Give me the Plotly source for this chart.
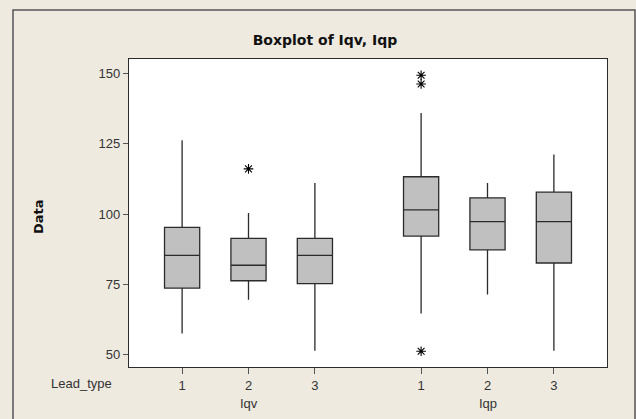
import plotly.graph_objects as go

# ---- data ----
variables = ["Iqv", "Iqv", "Iqv", "Iqp", "Iqp", "Iqp"]
lead_type = ["1", "2", "3", "1", "2", "3"]
q1 = [73.7, 76.3, 75.3, 92.2, 87.3, 82.6]
median = [85.3, 81.8, 85.3, 101.5, 97.3, 97.3]
q3 = [95.3, 91.4, 91.4, 113.3, 105.8, 107.8]
lower_whisker = [57.5, 69.5, 51.4, 64.6, 71.4, 51.4]
upper_whisker = [126.3, 100.4, 111.1, 136.0, 111.1, 121.2]
outlier_box = [1, 3, 3, 3]          # index of box each outlier belongs to
outlier_values = [116.1, 149.4, 146.3, 51.2]
y_ticks = [50, 75, 100, 125, 150]

# box positions: boxes within a variable one unit apart, 1.6 units between variables
group_gap = 1.6
groups = sorted(set(variables), key=variables.index)
positions = []
for i, v in enumerate(variables):
    g = groups.index(v)
    j = i - variables.index(v)
    positions.append(1 + j + g * (2 + group_gap))

BG = "#EEEAE0"
LINE = "#2b2b2b"
FONT = "Liberation Sans, Arial, sans-serif"
BOLD = "DejaVu Sans, Verdana, sans-serif"

fig = go.Figure()
fig.add_trace(go.Box(
    x=positions, q1=q1, median=median, q3=q3,
    lowerfence=lower_whisker, upperfence=upper_whisker,
    width=0.53, whiskerwidth=0,
    fillcolor="#C0C0C0", line=dict(color=LINE, width=1.3),
    boxpoints=False, hoverinfo="skip", showlegend=False,
))
fig.add_trace(go.Scatter(
    x=[positions[i] for i in outlier_box], y=outlier_values, mode="markers",
    marker=dict(symbol="asterisk-open", size=8, color="black",
                line=dict(color="black", width=1.1)),
    showlegend=False, hoverinfo="skip",
))

W, H = 636, 419
L, R, T, B = 129, 29, 59, 52
pw, ph = W - L - R, H - T - B


def px_x(p):
    return (p - L) / pw


def px_y(p):
    return (H - B - p) / ph


fig.update_layout(
    width=W, height=H,
    margin=dict(l=L, r=R, t=T, b=B, pad=0),
    paper_bgcolor=BG, plot_bgcolor="white",
    font=dict(family=FONT, size=13, color="#333333"),
    title=dict(text="<b>Boxplot of Iqv, Iqp</b>", x=325 / W,
               xanchor="center", y=1 - 40 / H, yanchor="middle",
               font=dict(family=BOLD, size=14, color="#111111")),
    xaxis=dict(range=[0.2, 7.4], tickmode="array", tickvals=positions,
               ticktext=lead_type, showgrid=False, zeroline=False,
               showline=True, linecolor=LINE, linewidth=1.2, mirror=True,
               ticks="outside", ticklen=6, tickcolor="#555555",
               tickfont=dict(size=13, color="#333333")),
    yaxis=dict(range=[45.6, 155.2], tickmode="array", tickvals=y_ticks,
               showgrid=False, zeroline=False,
               showline=True, linecolor=LINE, linewidth=1.2, mirror=True,
               ticks="outside", ticklen=5, tickcolor="#555555",
               tickfont=dict(size=13, color="#333333")),
    shapes=[dict(type="rect", xref="paper", yref="paper",
                 x0=px_x(13), x1=px_x(635), y0=px_y(421), y1=px_y(10),
                 line=dict(color="#555555", width=1.5), fillcolor="rgba(0,0,0,0)",
                 layer="below")],
    annotations=[
        dict(text="<b>Data</b>", xref="paper", yref="paper", x=px_x(38), y=px_y(217),
             textangle=-90, showarrow=False, xanchor="center", yanchor="middle",
             font=dict(family=BOLD, size=13, color="#111111")),
        dict(text="Lead_type", xref="paper", yref="paper", x=px_x(114), y=px_y(383),
             showarrow=False, xanchor="right", yanchor="middle",
             font=dict(size=13, color="#333333")),
    ],
)

for g in groups:
    idx = [i for i, v in enumerate(variables) if v == g]
    cx = sum(positions[i] for i in idx) / len(idx)
    fig.add_annotation(text=g, x=cx, xref="x", yref="paper", y=px_y(403),
                       showarrow=False, xanchor="center", yanchor="middle",
                       font=dict(size=13, color="#333333"))

fig.write_html("out.html",
               config={"displayModeBar": False},
               post_script="document.body.style.margin='0';"
                           "document.body.style.overflow='hidden';")
